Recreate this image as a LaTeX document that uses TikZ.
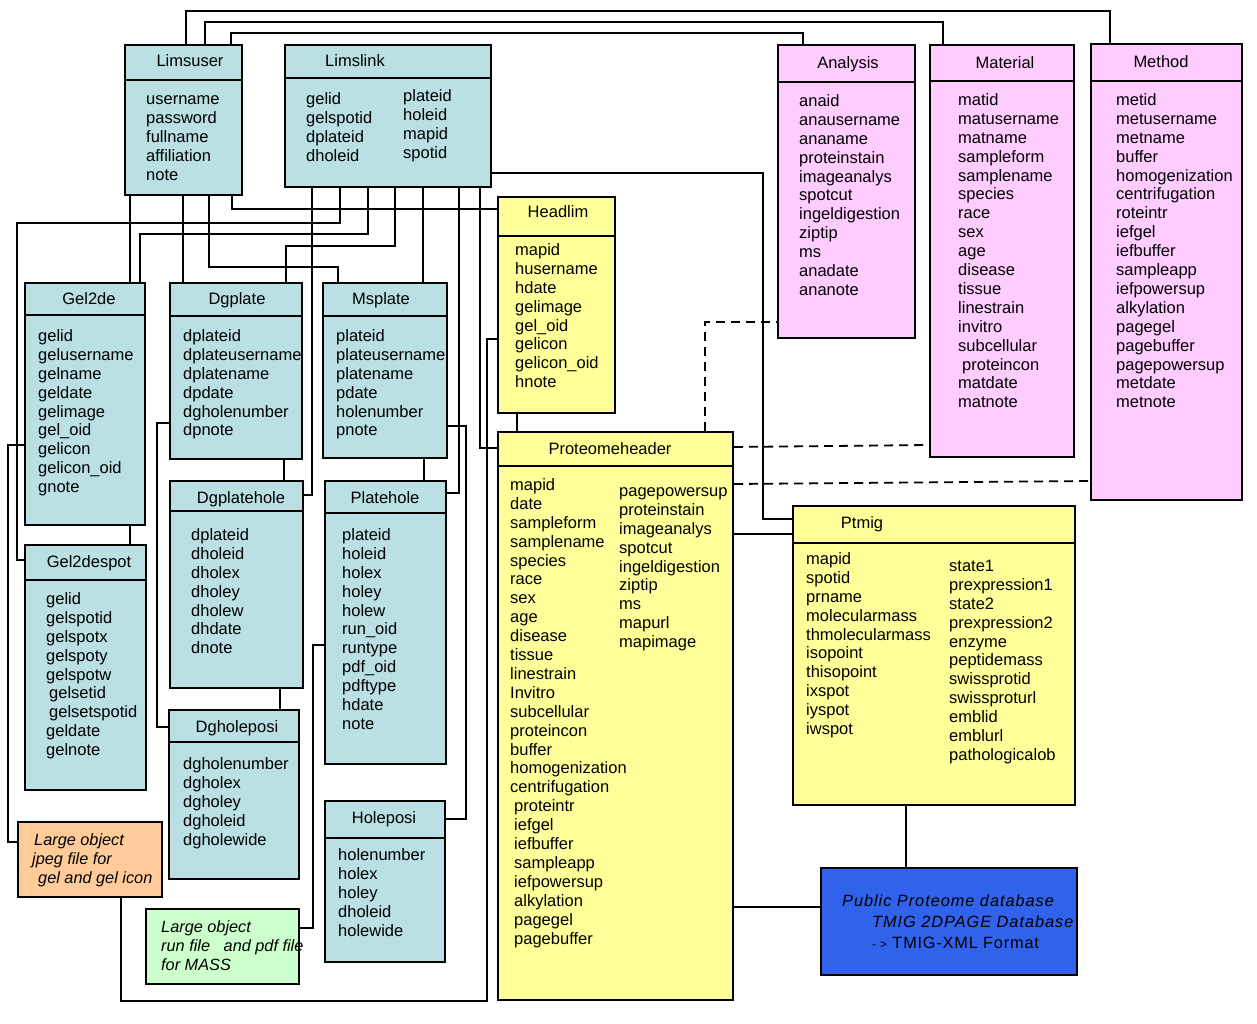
\documentclass[tikz,border=0pt]{standalone}
\usepackage{fontspec}
\setmainfont{Liberation Sans}
\usetikzlibrary{fit}

\definecolor{tblcyan}{RGB}{186,224,227}
\definecolor{tblpink}{RGB}{255,204,255}
\definecolor{tblyellow}{RGB}{255,255,153}
\definecolor{loborange}{RGB}{255,204,153}
\definecolor{lobgreen}{RGB}{204,255,204}
\definecolor{pubblue}{RGB}{48,98,236}

% table box with a header rule: name, fill, x1, y1, x2, y2, header y
\newcommand{\dbtable}[7]{%
  \node[tbl, fill=#2, fit={(#3,#4) (#5,#6)}] (#1) {};
  \draw[tbl] (#1.west |- 0,#7) -- (#1.east |- 0,#7);}

\begin{document}
\begin{tikzpicture}[x=1pt, y=-1pt,
    tbl/.style={draw, line width=2.2pt, inner sep=0pt},
    link/.style={line width=1.8pt},
    dashlink/.style={link, dash pattern=on 9pt off 6pt},
    title/.style={anchor=base, inner sep=0pt, font=\fontsize{16.5}{18.9}\selectfont},
    fields/.style={anchor=north west, align=left, inner sep=0pt, font=\fontsize{16.5}{18.9}\selectfont},
    note/.style={fields, font=\fontsize{16.3}{18.9}\selectfont\itshape}]
\useasboundingbox (0,0) rectangle (1257,1024);

% tables
\dbtable{limsuser}{tblcyan}{125}{45}{242}{195}{80}
\dbtable{limslink}{tblcyan}{285}{45}{491}{187}{78}
\dbtable{analysis}{tblpink}{778}{45}{915}{338}{82}
\dbtable{material}{tblpink}{930}{45}{1074}{457}{81}
\dbtable{method}{tblpink}{1091}{44}{1242}{500}{81}
\dbtable{headlim}{tblyellow}{498}{197}{615}{413}{236}
\dbtable{proteome}{tblyellow}{498}{432}{733}{1000}{466}
\dbtable{ptmig}{tblyellow}{793}{506}{1075}{805}{543}
\dbtable{gelde}{tblcyan}{25}{283}{145}{525}{315}
\dbtable{gelspot}{tblcyan}{25}{545}{146}{790}{580}
\dbtable{dgplate}{tblcyan}{170}{283}{302}{459}{316}
\dbtable{dgphole}{tblcyan}{170}{481}{303}{688}{511}
\dbtable{dgholeposi}{tblcyan}{169}{710}{299}{879}{742}
\dbtable{msplate}{tblcyan}{323}{283}{447}{458}{316}
\dbtable{platehole}{tblcyan}{325}{481}{446}{764}{513}
\dbtable{holeposi}{tblcyan}{325}{801}{445}{962}{838}
\node[tbl, fill=loborange, fit={(18,822) (162,897)}] (lobgel) {};
\node[tbl, fill=lobgreen, fit={(146,909) (299,984)}] (lobmass) {};
\node[tbl, fill=pubblue, fit={(821,868) (1077,975)}] (public) {};

% links
\draw[link] (limsuser.north -| 186,0) -- (186,11) -| (method.north -| 1110,0);
\draw[link] (limsuser.north -| 205,0) -- (205,22) -| (material.north -| 943,0);
\draw[link] (limsuser.north -| 231,0) -- (231,33) -| (analysis.north -| 803,0);
\draw[link] (limsuser.south -| 130,0) -- (gelde.north -| 130,0);
\draw[link] (limsuser.south -| 183,0) -- (dgplate.north -| 183,0);
\draw[link] (limsuser.south -| 209,0) |- (338,267) -- (msplate.north -| 338,0);
\draw[link] (limsuser.south -| 232,0) |- (headlim.west |- 0,209);
\draw[link] (limslink.south -| 312,0) |- (dgphole.east |- 0,495);
\draw[link] (limslink.south -| 340,0) |- (17,223) |- (gelspot.west |- 0,560);
\draw[link] (limslink.south -| 368,0) |- (140,234) -- (gelde.north -| 140,0);
\draw[link] (limslink.south -| 395,0) |- (286,246) -- (dgplate.north -| 286,0);
\draw[link] (limslink.south -| 423,0) -- (msplate.north -| 423,0);
\draw[link] (limslink.south -| 459,0) |- (platehole.east |- 0,493);
\draw[link] (limslink.south -| 480,0) |- (proteome.west |- 0,448);
\draw[link] (limslink.east |- 0,173) -| (763,519) -- (ptmig.west |- 0,519);
\draw[link] (gelde.south -| 130,0) -- (gelspot.north -| 130,0);
\draw[link] (gelde.west |- 0,445) -| (8,842) -- (lobgel.west |- 0,842);
\draw[link] (dgplate.south -| 284,0) -- (dgphole.north -| 284,0);
\draw[link] (dgphole.south -| 280,0) -- (dgholeposi.north -| 280,0);
\draw[link] (dgplate.west |- 0,423) -| (157,727) -- (dgholeposi.west |- 0,727);
\draw[link] (msplate.south -| 424,0) -- (platehole.north -| 424,0);
\draw[link] (msplate.east |- 0,426) -| (466,819) -- (holeposi.east |- 0,819);
\draw[link] (platehole.west |- 0,645) -| (313,928) -- (lobmass.east |- 0,928);
\draw[link] (lobgel.south -| 121,0) |- (487,1001) |- (headlim.west |- 0,339);
\draw[link] (headlim.south -| 517,0) -- (proteome.north -| 517,0);
\draw[link] (proteome.east |- 0,534) -- (ptmig.west |- 0,534);
\draw[link] (proteome.east |- 0,907) -- (public.west |- 0,907);
\draw[link] (ptmig.south -| 906,0) -- (public.north -| 906,0);
\draw[dashlink] (proteome.north -| 705,0) |- (analysis.west |- 0,322);
\draw[dashlink] (proteome.east |- 0,447) -- (material.west |- 0,445);
\draw[dashlink] (proteome.east |- 0,484) -- (method.west |- 0,481);

% titles
\node[title] (limsuser-t) at (190,67) {Limsuser};
\node[title] (limslink-t) at (355,67) {Limslink};
\node[title] (analysis-t) at (848,69) {Analysis};
\node[title] (material-t) at (1005,69) {Material};
\node[title] (method-t) at (1161,68) {Method};
\node[title] (headlim-t) at (558,218) {Headlim};
\node[title] (proteome-t) at (610,454) {Proteomeheader};
\node[title] (ptmig-t) at (862,528) {Ptmig};
\node[title] (gelde-t) at (89,304) {Gel2de};
\node[title] (gelspot-t) at (89,567) {Gel2despot};
\node[title] (dgplate-t) at (237,304) {Dgplate};
\node[title] (dgphole-t) at (241,503) {Dgplatehole};
\node[title] (dgholeposi-t) at (237,732) {Dgholeposi};
\node[title] (msplate-t) at (381,304) {Msplate};
\node[title] (platehole-t) at (385,503) {Platehole};
\node[title] (holeposi-t) at (384,823) {Holeposi};

% fields
\node[fields] (limsuser-f) at (146,91) {\strut username\\password\\fullname\\affiliation\\note};
\node[fields] (limslink-a) at (306,91) {\strut gelid\\gelspotid\\dplateid\\dholeid};
\node[fields] (limslink-b) at (403,88) {\strut plateid\\holeid\\mapid\\spotid};
\node[fields] (analysis-f) at (799,93) {\strut anaid\\anausername\\ananame\\proteinstain\\imageanalys\\spotcut\\ingeldigestion\\ziptip\\ms\\anadate\\ananote};
\node[fields] (material-f) at (958,92) {\strut matid\\matusername\\matname\\sampleform\\samplename\\species\\race\\sex\\age\\disease\\tissue\\linestrain\\invitro\\subcellular\\\hspace*{4pt}proteincon\\matdate\\matnote};
\node[fields] (method-f) at (1116,92) {\strut metid\\metusername\\metname\\buffer\\homogenization\\centrifugation\\roteintr\\iefgel\\iefbuffer\\sampleapp\\iefpowersup\\alkylation\\pagegel\\pagebuffer\\pagepowersup\\metdate\\metnote};
\node[fields] (headlim-f) at (515,242) {\strut mapid\\husername\\hdate\\gelimage\\gel\_oid\\gelicon\\gelicon\_oid\\hnote};
\node[fields] (proteome-a) at (510,477) {\strut mapid\\date\\sampleform\\samplename\\species\\race\\sex\\age\\disease\\tissue\\linestrain\\Invitro\\subcellular\\proteincon\\buffer\\homogenization\\centrifugation\\\hspace*{4pt}proteintr\\\hspace*{4pt}iefgel\\\hspace*{4pt}iefbuffer\\\hspace*{4pt}sampleapp\\\hspace*{4pt}iefpowersup\\\hspace*{4pt}alkylation\\\hspace*{4pt}pagegel\\\hspace*{4pt}pagebuffer};
\node[fields] (proteome-b) at (619,483) {\strut pagepowersup\\proteinstain\\imageanalys\\spotcut\\ingeldigestion\\ziptip\\ms\\mapurl\\mapimage};
\node[fields] (ptmig-a) at (806,551) {\strut mapid\\spotid\\prname\\molecularmass\\thmolecularmass\\isopoint\\thisopoint\\ixspot\\iyspot\\iwspot};
\node[fields] (ptmig-b) at (949,558) {\strut state1\\prexpression1\\state2\\prexpression2\\enzyme\\peptidemass\\swissprotid\\swissproturl\\emblid\\emblurl\\pathologicalob};
\node[fields] (gelde-f) at (38,328) {\strut gelid\\gelusername\\gelname\\geldate\\gelimage\\gel\_oid\\gelicon\\gelicon\_oid\\gnote};
\node[fields] (gelspot-f) at (46,591) {\strut gelid\\gelspotid\\gelspotx\\gelspoty\\gelspotw\\\hspace*{3pt}gelsetid\\\hspace*{3pt}gelsetspotid\\geldate\\gelnote};
\node[fields] (dgplate-f) at (183,328) {\strut dplateid\\dplateusername\\dplatename\\dpdate\\dgholenumber\\dpnote};
\node[fields] (dgphole-f) at (191,527) {\strut dplateid\\dholeid\\dholex\\dholey\\dholew\\dhdate\\dnote};
\node[fields] (dgholeposi-f) at (183,756) {\strut dgholenumber\\dgholex\\dgholey\\dgholeid\\dgholewide};
\node[fields] (msplate-f) at (336,328) {\strut plateid\\plateusername\\platename\\pdate\\holenumber\\pnote};
\node[fields] (platehole-f) at (342,527) {\strut plateid\\holeid\\holex\\holey\\holew\\run\_oid\\runtype\\pdf\_oid\\pdftype\\hdate\\note};
\node[fields] (holeposi-f) at (338,847) {\strut holenumber\\holex\\holey\\dholeid\\holewide};

% notes
\node[note] (lobgel-t) at (32,832) {\strut\hspace*{2pt}Large object\\jpeg file for\\\hspace*{6pt}gel and gel icon};
\node[note] (lobmass-t) at (161,919) {\strut Large object\\run file\ \ \ and pdf file\\for MASS};
\node[note, font=\fontsize{16.3}{21}\selectfont\itshape\addfontfeatures{LetterSpace=6}] (public-t) at (842,892)
  {\strut Public Proteome database\\\hspace*{30pt}TMIG 2DPAGE Database\\\hspace*{30pt}{\upshape\addfontfeatures{LetterSpace=5}{\fontsize{12}{13}\selectfont -\ >}\ TMIG-XML Format}};
\end{tikzpicture}
\end{document}
